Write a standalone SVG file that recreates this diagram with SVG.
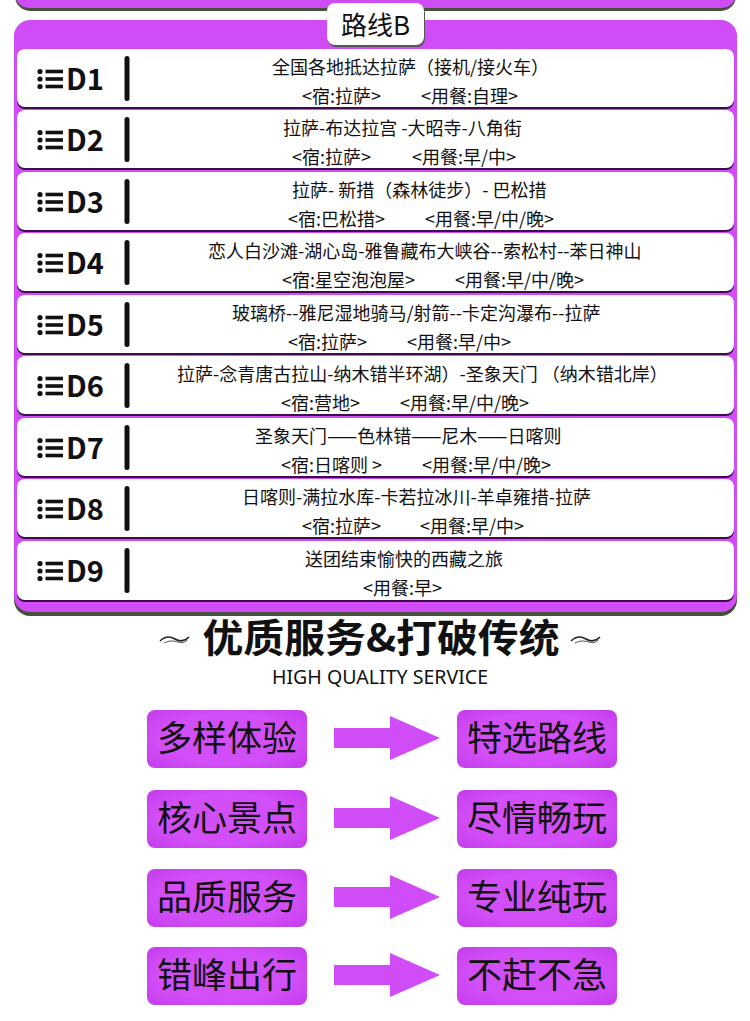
<svg xmlns="http://www.w3.org/2000/svg" width="750" height="1021" viewBox="0 0 750 1021">
<style>
.t{font-family:"Noto Sans CJK SC","Noto Sans",sans-serif;fill:#111;}
.l1{font-size:18px;}
.l2{font-size:18px;}
.dl{font-family:"Noto Sans CJK SC","Noto Sans",sans-serif;font-size:29px;font-weight:bold;fill:#111;}
.row{fill:#fff;}
.rowsh{fill:#3e0c4e;}
.bar{fill:#111;}
.box{fill:url(#bg);}
.bt{font-family:"Noto Sans CJK SC","Noto Sans",sans-serif;font-size:35px;fill:#111;text-anchor:middle;}
.arr{fill:#d04cf6;}
</style>
<defs>
<radialGradient id="bg" cx="0.5" cy="0.5" r="0.7">
<stop offset="0.6" stop-color="#d24ef7"/>
<stop offset="1" stop-color="#c43cec"/>
</radialGradient>
<g id="icon">
<circle cx="40" cy="22.5" r="2.6" fill="#111"/>
<circle cx="40" cy="30" r="2.6" fill="#111"/>
<circle cx="40" cy="37.5" r="2.6" fill="#111"/>
<rect x="45.5" y="20.7" width="17.5" height="3.6" fill="#111"/>
<rect x="45.5" y="28.2" width="17.5" height="3.6" fill="#111"/>
<rect x="45.5" y="35.7" width="17.5" height="3.6" fill="#111"/>
<rect x="124.5" y="7" width="5" height="45" rx="2.5" class="bar"/>
</g>
</defs>
<rect width="750" height="1021" fill="#fff"/>
<g id="top-panel">
<rect x="15" y="-20" width="721" height="31" rx="15" fill="#46503c"/>
<rect x="15" y="-20" width="721" height="28" rx="15" fill="#d04cf7"/>
</g>
<g id="panel">
<rect x="14" y="22" width="723" height="594" rx="16" fill="#46503c"/>
<rect x="14" y="20" width="723" height="592" rx="16" fill="#d04cf7"/>
</g>
<g id="title-label">
<rect x="328" y="5" width="97" height="42" rx="8" fill="#555"/>
<rect x="327" y="3" width="97" height="42" rx="8" fill="#fff"/>
<text class="t" x="375.5" y="35" font-size="26" text-anchor="middle">路线B</text>
</g>

<g id="D1" transform="translate(0,49)">
<rect x="17" y="2" width="717" height="58" rx="8" class="rowsh"/>
<rect x="17" y="0" width="717" height="58" rx="8" class="row"/>
<use href="#icon"/>
<text class="dl" x="66" y="41">D1</text>
<text class="t l1" x="272" y="25">全国各地抵达拉萨（接机/接火车）</text>
<text class="t l2" x="302" y="54">&lt;宿:拉萨&gt;</text>
<text class="t l2" x="421" y="54">&lt;用餐:自理&gt;</text>
</g>
<g id="D2" transform="translate(0,110)">
<rect x="17" y="2" width="717" height="58" rx="8" class="rowsh"/>
<rect x="17" y="0" width="717" height="58" rx="8" class="row"/>
<use href="#icon"/>
<text class="dl" x="66" y="41">D2</text>
<text class="t l1" x="283" y="25">拉萨-布达拉宫 -大昭寺-八角街</text>
<text class="t l2" x="292" y="54">&lt;宿:拉萨&gt;</text>
<text class="t l2" x="412" y="54">&lt;用餐:早/中&gt;</text>
</g>
<g id="D3" transform="translate(0,172)">
<rect x="17" y="2" width="717" height="58" rx="8" class="rowsh"/>
<rect x="17" y="0" width="717" height="58" rx="8" class="row"/>
<use href="#icon"/>
<text class="dl" x="66" y="41">D3</text>
<text class="t l1" x="292" y="25">拉萨- 新措（森林徒步）- 巴松措</text>
<text class="t l2" x="288" y="54">&lt;宿:巴松措&gt;</text>
<text class="t l2" x="425" y="54">&lt;用餐:早/中/晚&gt;</text>
</g>
<g id="D4" transform="translate(0,233)">
<rect x="17" y="2" width="717" height="58" rx="8" class="rowsh"/>
<rect x="17" y="0" width="717" height="58" rx="8" class="row"/>
<use href="#icon"/>
<text class="dl" x="66" y="41">D4</text>
<text class="t l1" x="208" y="25">恋人白沙滩-湖心岛-雅鲁藏布大峡谷--索松村--苯日神山</text>
<text class="t l2" x="282" y="54">&lt;宿:星空泡泡屋&gt;</text>
<text class="t l2" x="455" y="54">&lt;用餐:早/中/晚&gt;</text>
</g>
<g id="D5" transform="translate(0,295)">
<rect x="17" y="2" width="717" height="58" rx="8" class="rowsh"/>
<rect x="17" y="0" width="717" height="58" rx="8" class="row"/>
<use href="#icon"/>
<text class="dl" x="66" y="41">D5</text>
<text class="t l1" x="232" y="25">玻璃桥--雅尼湿地骑马/射箭--卡定沟瀑布--拉萨</text>
<text class="t l2" x="288" y="54">&lt;宿:拉萨&gt;</text>
<text class="t l2" x="407" y="54">&lt;用餐:早/中&gt;</text>
</g>
<g id="D6" transform="translate(0,356)">
<rect x="17" y="2" width="717" height="58" rx="8" class="rowsh"/>
<rect x="17" y="0" width="717" height="58" rx="8" class="row"/>
<use href="#icon"/>
<text class="dl" x="66" y="41">D6</text>
<text class="t l1" x="177" y="25">拉萨-念青唐古拉山-纳木错半环湖）-圣象天门 （纳木错北岸）</text>
<text class="t l2" x="281" y="54">&lt;宿:营地&gt;</text>
<text class="t l2" x="400" y="54">&lt;用餐:早/中/晚&gt;</text>
</g>
<g id="D7" transform="translate(0,418)">
<rect x="17" y="2" width="717" height="58" rx="8" class="rowsh"/>
<rect x="17" y="0" width="717" height="58" rx="8" class="row"/>
<use href="#icon"/>
<text class="dl" x="66" y="41">D7</text>
<text class="t l1" x="255" y="25">圣象天门——色林错——尼木——日喀则</text>
<text class="t l2" x="281" y="54">&lt;宿:日喀则 &gt;</text>
<text class="t l2" x="422" y="54">&lt;用餐:早/中/晚&gt;</text>
</g>
<g id="D8" transform="translate(0,479)">
<rect x="17" y="2" width="717" height="58" rx="8" class="rowsh"/>
<rect x="17" y="0" width="717" height="58" rx="8" class="row"/>
<use href="#icon"/>
<text class="dl" x="66" y="41">D8</text>
<text class="t l1" x="242" y="25">日喀则-满拉水库-卡若拉冰川-羊卓雍措-拉萨</text>
<text class="t l2" x="302" y="54">&lt;宿:拉萨&gt;</text>
<text class="t l2" x="420" y="54">&lt;用餐:早/中&gt;</text>
</g>
<g id="D9" transform="translate(0,541)">
<rect x="17" y="2" width="717" height="59" rx="8" class="rowsh"/>
<rect x="17" y="0" width="717" height="59" rx="8" class="row"/>
<use href="#icon"/>
<text class="dl" x="66" y="41">D9</text>
<text class="t l1" x="305" y="25">送团结束愉快的西藏之旅</text>
<text class="t l2" x="363" y="54">&lt;用餐:早&gt;</text>
</g>

<g id="heading">
<path d="M160,641 C165,636 170,636 175,639 S184,642 189,637" fill="none" stroke="#222" stroke-width="1.6"/>
<path d="M164,643 C170,640 174,641 178,642 S184,643 187,640" fill="none" stroke="#222" stroke-width="0.8"/>
<path d="M571,641 C576,636 581,636 586,639 S595,642 600,637" fill="none" stroke="#222" stroke-width="1.6"/>
<path d="M575,643 C581,640 585,641 589,642 S595,643 598,640" fill="none" stroke="#222" stroke-width="0.8"/>
<text class="t" x="381" y="652" font-size="39" font-weight="bold" text-anchor="middle" textLength="357" lengthAdjust="spacingAndGlyphs">优质服务&amp;打破传统</text>
<text x="380" y="684" font-family="'Noto Sans','Liberation Sans',sans-serif" font-size="20" fill="#111" text-anchor="middle" textLength="216" lengthAdjust="spacingAndGlyphs">HIGH QUALITY SERVICE</text>
</g>

<g id="n1"><rect class="box" x="147" y="710" width="160" height="58" rx="8"/><text class="bt" x="227" y="751">多样体验</text></g>
<g id="n2"><rect class="box" x="457" y="710" width="160" height="58" rx="8"/><text class="bt" x="537" y="751">特选路线</text></g>
<g id="n3"><rect class="box" x="147" y="790" width="160" height="58" rx="8"/><text class="bt" x="227" y="831">核心景点</text></g>
<g id="n4"><rect class="box" x="457" y="790" width="160" height="58" rx="8"/><text class="bt" x="537" y="831">尽情畅玩</text></g>
<g id="n5"><rect class="box" x="147" y="869" width="160" height="58" rx="8"/><text class="bt" x="227" y="910">品质服务</text></g>
<g id="n6"><rect class="box" x="457" y="869" width="160" height="58" rx="8"/><text class="bt" x="537" y="910">专业纯玩</text></g>
<g id="n7"><rect class="box" x="147" y="947" width="160" height="58" rx="8"/><text class="bt" x="227" y="988">错峰出行</text></g>
<g id="n8"><rect class="box" x="457" y="947" width="160" height="58" rx="8"/><text class="bt" x="537" y="988">不赶不急</text></g>

<g id="connectors">
<polygon class="arr" points="334,728 390,728 390,716 440,738 390,760 390,748 334,748"/>
<polygon class="arr" points="334,808 390,808 390,796 440,818 390,840 390,828 334,828"/>
<polygon class="arr" points="334,887 390,887 390,875 440,897 390,919 390,907 334,907"/>
<polygon class="arr" points="334,965 390,965 390,953 440,975 390,997 390,985 334,985"/>
</g>
</svg>
